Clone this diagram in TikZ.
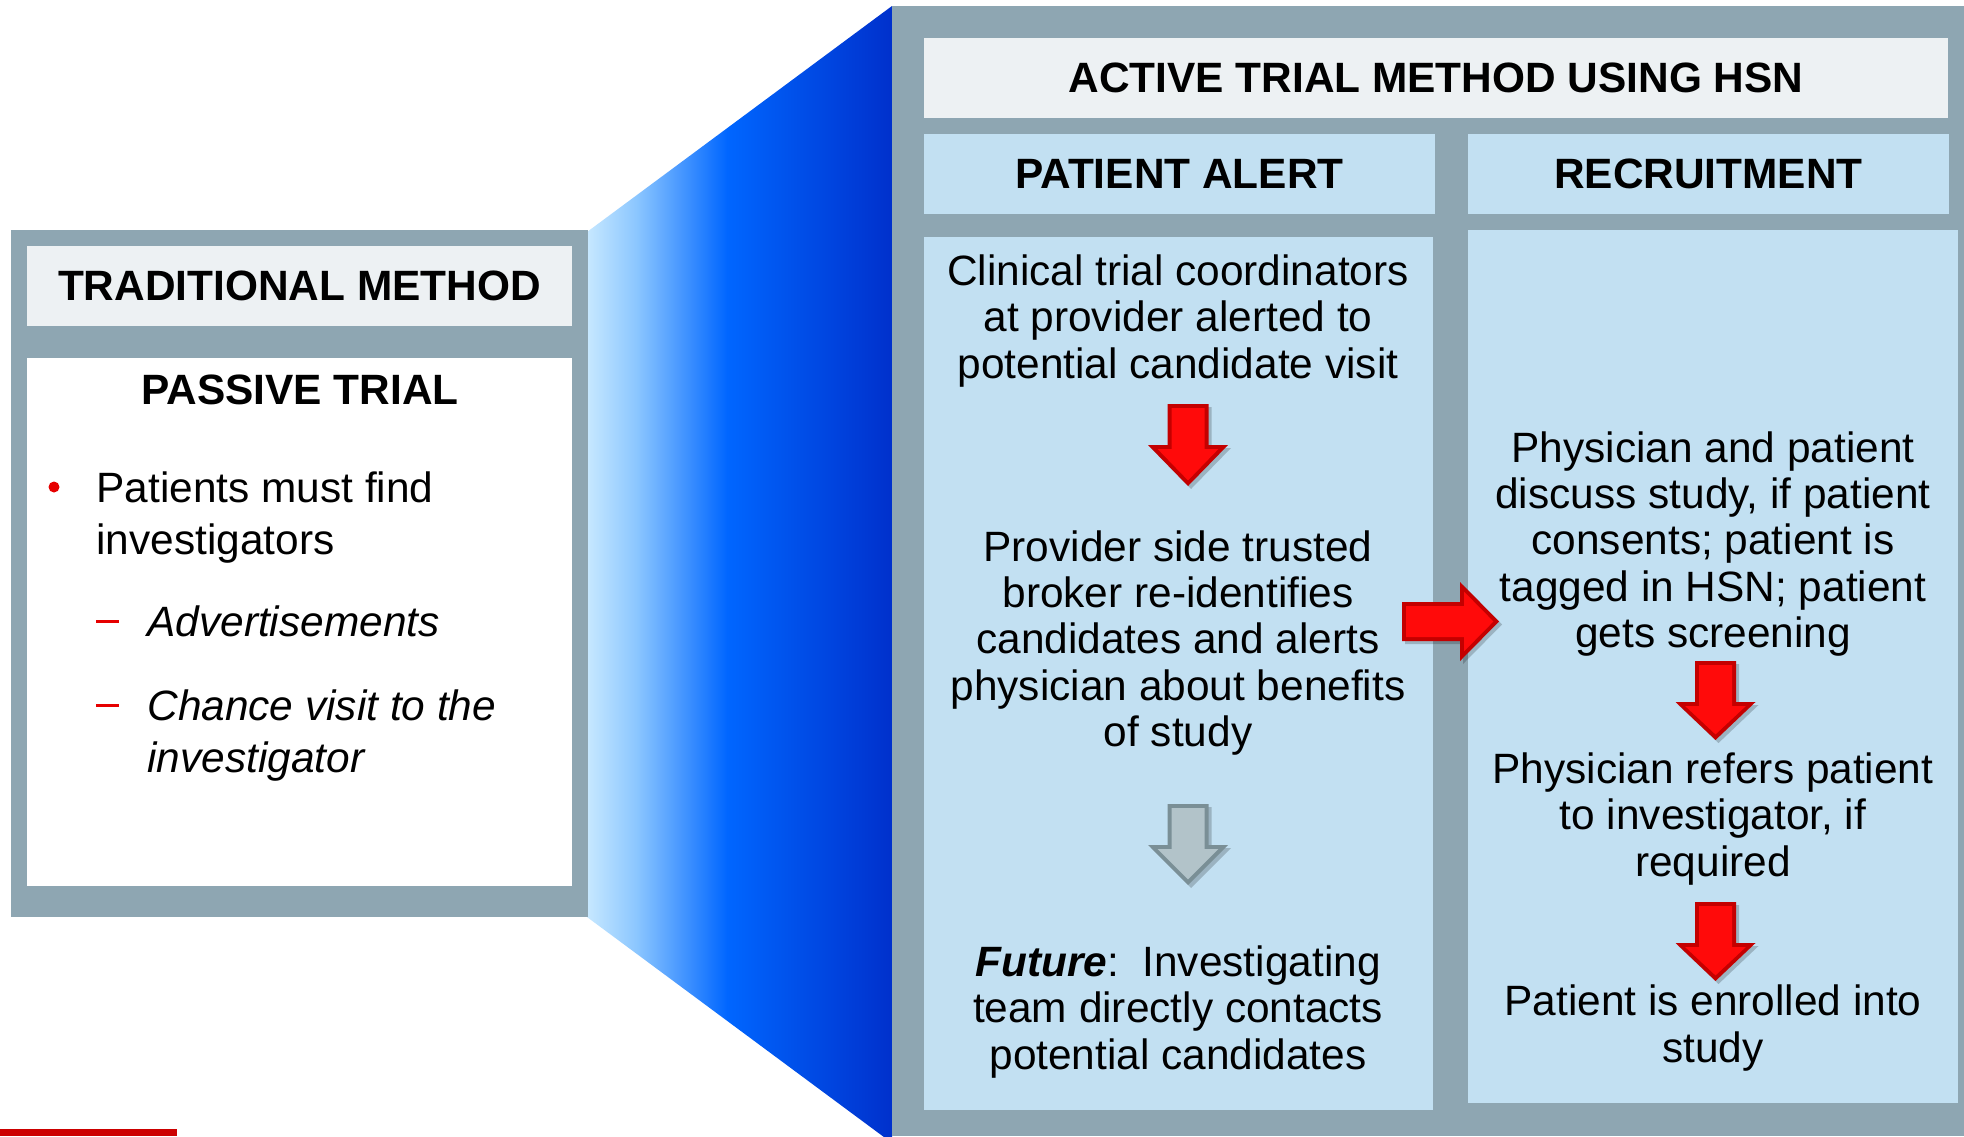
\documentclass[tikz,border=0pt]{standalone}
\usepackage{fontspec}
\setmainfont{Liberation Sans}
\definecolor{frameg}{RGB}{142,166,178}
\definecolor{panelb}{RGB}{194,224,242}
\definecolor{titleg}{RGB}{237,241,243}
\definecolor{arrred}{RGB}{255,10,10}
\definecolor{arrredd}{RGB}{196,0,0}
\definecolor{arrgray}{RGB}{178,195,201}
\definecolor{arrgrayd}{RGB}{122,143,150}
\definecolor{barred}{RGB}{204,0,0}
\definecolor{bulred}{RGB}{230,0,0}
\pgfdeclarehorizontalshading{trapshade}{100bp}{rgb(0bp)=(0.78,0.91,1); rgb(25bp)=(0.78,0.91,1); rgb(33bp)=(0.55,0.78,1); rgb(48bp)=(0,0.4,1); rgb(75bp)=(0,0.19,0.8); rgb(100bp)=(0,0.19,0.8)}
\tikzset{
  hdr/.style={font=\fontsize{21.2}{25}\selectfont\bfseries, inner sep=0pt},
  bodytxt/.style={font=\fontsize{21.2}{23.2}\selectfont, align=center, inner sep=0pt},
  ltxt/.style={font=\fontsize{21.2}{26}\selectfont, align=left, inner sep=0pt, anchor=west},
  shadowfill/.style={fill=black, opacity=0.2},
}
% down block arrow: #1 cx, #2 top, #3 head top, #4 tip, #5 dark, #6 light
\newcommand\myDownArrow[6]{%
  \fill[shadowfill] (#1-20.5+3,#2+3) -- (#1+20.5+3,#2+3) -- (#1+20.5+3,#3+3) -- (#1+40+3,#3+3) -- (#1+3,#4+3) -- (#1-40+3,#3+3) -- (#1-20.5+3,#3+3) -- cycle;
  \fill[#5] (#1-20.5,#2) -- (#1+20.5,#2) -- (#1+20.5,#3) -- (#1+40,#3) -- (#1,#4) -- (#1-40,#3) -- (#1-20.5,#3) -- cycle;
  \fill[#6] (#1-16.5,#2+4) -- (#1+16.5,#2+4) -- (#1+16.5,#3+4) -- (#1+30.4,#3+4) -- (#1,#4-5.6) -- (#1-30.4,#3+4) -- (#1-16.5,#3+4) -- cycle;
}
\begin{document}
\begin{tikzpicture}[x=0.5pt,y=-0.5pt]
\useasboundingbox (0,0) rectangle (1964,1136);
\clip (0,0) rectangle (1964,1136);
\fill[white] (0,0) rectangle (1964,1136);

% gradient trapezoid
\shade[shading=trapshade]
  (587,232) -- (892,6) -- (892,1143) -- (587,917) -- cycle;

% left panel
\fill[frameg] (11,230) rectangle (588,917);
\fill[titleg] (27,246) rectangle (572,326);
\fill[white] (27,358) rectangle (572,886);
\node[hdr] (trad) at (299.5,286) {TRADITIONAL METHOD};
\node[hdr] (passive) at (300,390) {PASSIVE TRIAL};
\fill[bulred] (54,487) circle (5.5);
\node[ltxt] (item1) at (96,518) {Patients must find\\investigators};
\fill[bulred] (96,619.5) rectangle (119,623);
\node[ltxt] (sub1) at (147,621) {\itshape Advertisements};
\fill[bulred] (96,703.5) rectangle (119,707);
\node[ltxt] (sub2) at (147,736) {\itshape Chance visit to the\\\itshape investigator};

% right panel
\fill[frameg] (892,6) rectangle (1964,1136);
\fill[titleg] (924,38) rectangle (1948,118);
\fill[panelb] (924,134) rectangle (1435,214);
\fill[panelb] (1468,134) rectangle (1949,214);
\fill[panelb] (924,237) rectangle (1433,1110);
\fill[panelb] (1468,230) rectangle (1958,1103);

\node[hdr] (active) at (1436,78) {ACTIVE TRIAL METHOD USING HSN};
\node[hdr] (alert) at (1179.5,174) {PATIENT ALERT};
\node[hdr] (recruit) at (1708.5,174) {RECRUITMENT};

\node[bodytxt] (clin) at (1178,321) {Clinical trial coordinators\\at provider alerted to\\potential candidate visit};
\node[bodytxt] (prov) at (1178,643) {Provider side trusted\\broker re-identifies\\candidates and alerts\\physician about benefits\\of study};
\node[bodytxt] (fut) at (1178,1012) {\textbf{\textit{Future}}:\ \ Investigating\\team directly contacts\\potential candidates};

\node[bodytxt] (phys) at (1713,544) {Physician and patient\\discuss study, if patient\\consents; patient is\\tagged in HSN; patient\\gets screening};
\node[bodytxt] (refer) at (1713,819) {Physician refers patient\\to investigator, if\\required};
\node[bodytxt] (enrol) at (1713,1028) {Patient is enrolled into\\study};

% block arrows
\myDownArrow{1188}{404}{445}{486}{arrredd}{arrred}
\myDownArrow{1188}{804}{845}{885}{arrgrayd}{arrgray}
\myDownArrow{1715.5}{661}{702}{740}{arrredd}{arrred}
\myDownArrow{1715.5}{902}{943}{981}{arrredd}{arrred}

% right block arrow
\fill[shadowfill] (1405,605) -- (1463,605) -- (1463,585) -- (1502,624.5) -- (1463,664) -- (1463,644) -- (1405,644) -- cycle;
\fill[arrredd] (1402,602) -- (1460,602) -- (1460,582) -- (1499,621.5) -- (1460,661) -- (1460,641) -- (1402,641) -- cycle;
\fill[arrred] (1406,606) -- (1464,606) -- (1464,591.6) -- (1493.4,621.5) -- (1464,651.4) -- (1464,637) -- (1406,637) -- cycle;

% bottom red bar
\fill[barred] (0,1129) rectangle (177,1136);
\end{tikzpicture}
\end{document}
